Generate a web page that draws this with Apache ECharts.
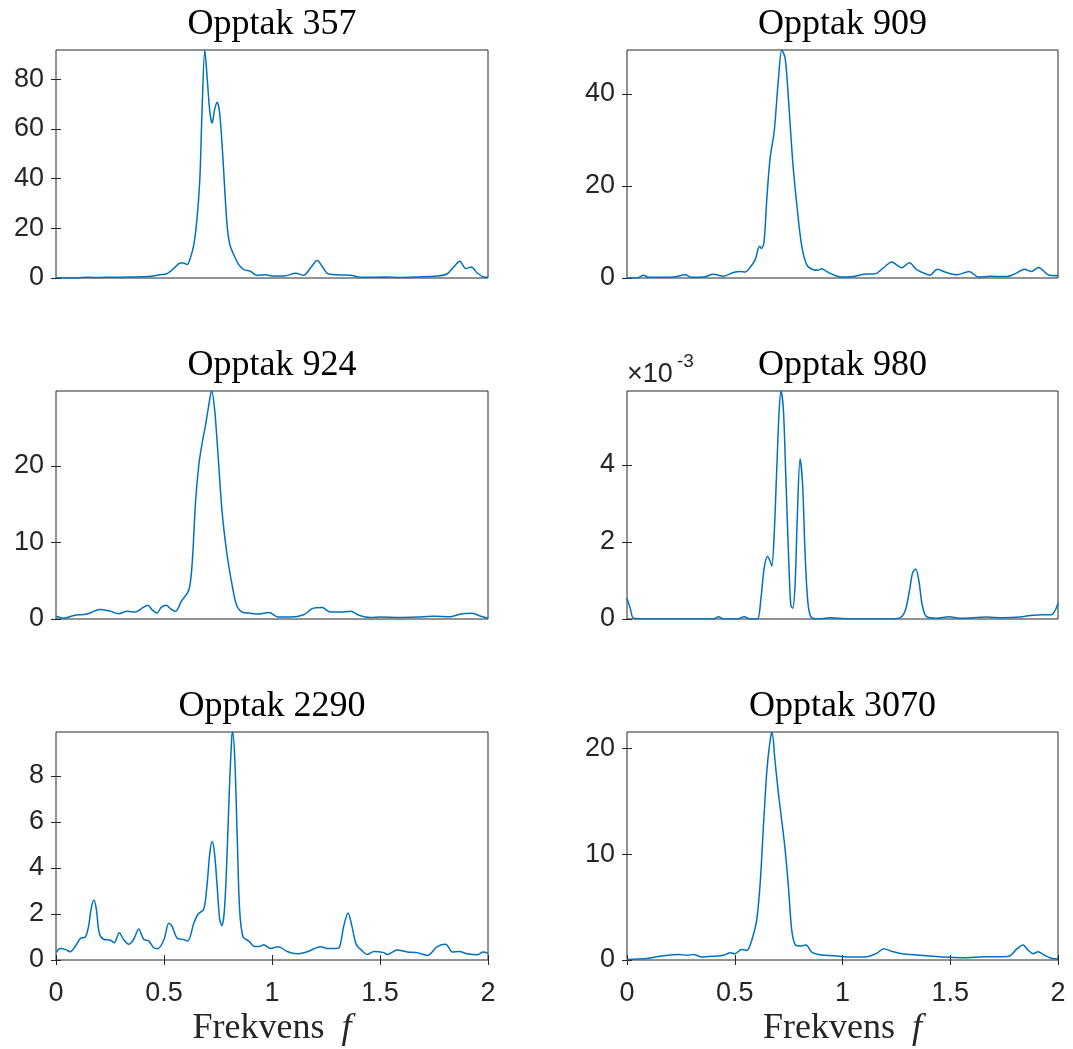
<!DOCTYPE html>
<html><head><meta charset="utf-8">
<script src="https://cdn.jsdelivr.net/npm/echarts@6/dist/echarts.min.js"></script>
<style>html,body{margin:0;padding:0;background:#fff}#c{width:1073px;height:1049px}</style>
</head><body><div id="c"></div>
<script>
// ---- data ----
const titles = ['Opptak 357', 'Opptak 909', 'Opptak 924', 'Opptak 980', 'Opptak 2290', 'Opptak 3070'];

const f357 = [0,0.05,0.1,0.15,0.2,0.25,0.3,0.35,0.4,0.44,0.48,0.51,0.53,0.55,0.576,0.59,0.607,0.622,0.638,0.653,0.666,0.676,0.689,0.70,0.712,0.723,0.734,0.746,0.757,0.769,0.78,0.792,0.805,0.823,0.846,0.87,0.9,0.93,0.97,1.01,1.055,1.11,1.147,1.178,1.21,1.232,1.256,1.30,1.364,1.41,1.52,1.6,1.67,1.765,1.81,1.84,1.87,1.897,1.923,1.95,1.98,2.0];
const p357 = [0.1,0.0,0.05,0.3,0.2,0.35,0.3,0.4,0.5,0.7,1.3,1.6,2.7,4.3,6.0,6.0,5.4,8,13.4,24,40,67,91.8,80.4,67,62.3,67.7,70.8,67,53.6,37.5,21.4,13.4,9.4,5.4,3.4,2.7,1.1,1.3,0.8,0.8,1.9,1.1,4.0,7.0,4.7,1.9,1.3,1.1,0.3,0.4,0.2,0.4,0.8,1.6,4.3,6.7,3.8,4.4,2.0,0.4,0.3];

const f909 = [0,0.046,0.077,0.1,0.154,0.216,0.27,0.30,0.355,0.40,0.448,0.494,0.525,0.548,0.571,0.595,0.615,0.625,0.636,0.649,0.664,0.683,0.703,0.718,0.734,0.749,0.769,0.788,0.81,0.834,0.865,0.888,0.903,0.927,0.958,0.996,1.05,1.097,1.15,1.19,1.228,1.25,1.274,1.31,1.344,1.375,1.405,1.44,1.475,1.53,1.588,1.63,1.683,1.76,1.8,1.845,1.876,1.91,1.954,2.0];
const p909 = [0,0,0.6,0.15,0.15,0.2,0.7,0.15,0.2,0.8,0.4,1.2,1.4,1.3,2.3,4.0,6.9,6.4,7.9,17.3,26,31.8,43.4,49.5,47.7,39,25.3,15.9,7.2,2.9,1.8,1.7,2.0,1.4,0.7,0.2,0.3,0.8,0.9,2.2,3.5,2.9,2.2,3.3,1.8,1.1,0.6,1.9,1.3,0.7,1.4,0.2,0.4,0.3,0.9,1.9,1.4,2.3,0.7,0.5];

const f924 = [0,0.036,0.082,0.144,0.175,0.205,0.252,0.29,0.33,0.368,0.4,0.425,0.445,0.468,0.488,0.511,0.53,0.553,0.58,0.615,0.63,0.646,0.661,0.676,0.692,0.707,0.72,0.734,0.749,0.769,0.792,0.815,0.835,0.862,0.9,0.94,0.985,1.03,1.086,1.147,1.186,1.232,1.27,1.317,1.364,1.402,1.456,1.503,1.595,1.672,1.75,1.827,1.873,1.927,1.966,2.0];
const p924 = [0.35,0.1,0.45,0.65,1.0,1.25,1.0,0.7,1.0,0.9,1.45,1.8,1.2,0.8,1.55,1.8,1.35,1.0,2.3,3.8,7.1,15.3,20.1,22.9,25.3,27.9,29.8,27.5,21.9,14.0,8.4,4.5,1.9,0.9,0.75,0.65,0.85,0.25,0.25,0.55,1.35,1.5,0.9,0.9,1.0,0.5,0.2,0.25,0.2,0.25,0.35,0.3,0.65,0.75,0.35,0.1];

const f980 = [0,0.015,0.031,0.1,0.2,0.3,0.4,0.425,0.448,0.51,0.544,0.571,0.605,0.62,0.636,0.652,0.664,0.672,0.683,0.695,0.706,0.715,0.726,0.737,0.749,0.76,0.769,0.78,0.79,0.803,0.815,0.826,0.839,0.853,0.88,0.942,1.05,1.205,1.266,1.29,1.31,1.325,1.34,1.355,1.37,1.39,1.436,1.495,1.544,1.668,1.745,1.822,1.884,1.93,1.969,2.0];
const p980 = [0.00054,0.00028,0.00002,0,0,0,0,0.00006,0,0,0.00006,0,0,0.00045,0.0013,0.00162,0.0015,0.00137,0.0022,0.0039,0.0054,0.00592,0.0054,0.0037,0.00175,0.00036,0.00028,0.00089,0.0026,0.00416,0.00348,0.00175,0.00045,0.00006,0,0.00003,0,0,0.00003,0.0002,0.00071,0.00119,0.0013,0.00097,0.00036,0.00006,0.00002,0.00006,0.00002,0.00005,0.00003,0.00005,0.0001,0.00011,0.00011,0.0004];

const f2290 = [0,0.02,0.043,0.066,0.09,0.113,0.136,0.151,0.162,0.175,0.187,0.2,0.22,0.252,0.27,0.293,0.313,0.337,0.36,0.383,0.406,0.43,0.452,0.471,0.5,0.522,0.537,0.56,0.59,0.61,0.638,0.658,0.684,0.7,0.712,0.723,0.734,0.746,0.758,0.768,0.78,0.792,0.803,0.814,0.818,0.828,0.839,0.85,0.866,0.893,0.916,0.94,0.962,0.993,1.03,1.07,1.117,1.163,1.225,1.256,1.286,1.31,1.332,1.352,1.37,1.39,1.418,1.44,1.472,1.518,1.533,1.58,1.626,1.672,1.72,1.765,1.804,1.835,1.866,1.904,1.95,1.978,2.0];
const p2290 = [0.32,0.5,0.46,0.36,0.6,0.94,1.0,1.47,2.19,2.6,2.19,1.18,0.9,0.86,0.75,1.18,0.89,0.68,0.9,1.35,0.9,0.82,0.53,0.49,0.89,1.6,1.47,0.96,0.89,0.82,1.6,2.0,2.2,3.34,4.63,5.14,4.63,3.2,1.75,1.5,2.2,4.6,7.5,9.7,9.9,8.66,5.35,2.2,1.0,0.82,0.6,0.59,0.66,0.5,0.58,0.37,0.27,0.36,0.58,0.5,0.5,0.53,1.47,2.04,1.47,0.68,0.39,0.24,0.37,0.32,0.24,0.43,0.35,0.32,0.2,0.58,0.68,0.35,0.37,0.27,0.23,0.35,0.29];

const f3070 = [0,0.093,0.154,0.24,0.278,0.309,0.347,0.417,0.448,0.48,0.5,0.533,0.556,0.58,0.602,0.618,0.633,0.649,0.664,0.673,0.687,0.703,0.718,0.734,0.749,0.764,0.78,0.803,0.831,0.857,0.896,0.958,1.05,1.112,1.158,1.192,1.228,1.282,1.328,1.39,1.467,1.56,1.668,1.745,1.776,1.807,1.838,1.861,1.884,1.907,1.938,1.969,2.0];
const p3070 = [0.05,0.15,0.35,0.53,0.44,0.53,0.28,0.38,0.44,0.69,0.6,1.0,0.91,1.94,3.8,7.27,12.6,17.9,20.75,21.57,18.8,15.7,13.2,10.4,6.96,2.9,1.47,1.32,1.41,0.75,0.5,0.41,0.28,0.31,0.63,1.07,0.82,0.56,0.5,0.41,0.28,0.22,0.31,0.31,0.38,1.0,1.41,0.94,0.6,0.78,0.44,0.16,0.09];

const yMax = [91.8, 49.5, 29.8, 0.00592, 9.9, 21.57];
const yTicks357 = [0,20,40,60,80];
const yTicks909 = [0,20,40];
const yTicks924 = [0,10,20];
const yTicks980 = [0,0.002,0.004];
const yTicks2290 = [0,2,4,6,8];
const yTicks3070 = [0,10,20];
const xTicks = [0,0.5,1,1.5,2];

// ---- layout ----
const freqs = [f357,f909,f924,f980,f2290,f3070];
const powers = [p357,p909,p924,p980,p2290,p3070];
const yTicks = [yTicks357,yTicks909,yTicks924,yTicks980,yTicks2290,yTicks3070];
const colLeft = [56, 627], colWidth = [432, 431];
const rowTop = [50, 391, 732], rowHeight = 228;
const INK = '#262626', LINE = '#0072BD';
const SANS = '"Liberation Sans", Arial, Helvetica, sans-serif';
const SERIF = '"Liberation Serif", "Times New Roman", serif';

const grids = [], xAxes = [], yAxes = [], series = [], graphics = [];
for (let i = 0; i < 6; i++) {
  const r = Math.floor(i / 2), c = i % 2, bottom = r === 2;
  grids.push({left: colLeft[c], top: rowTop[r], width: colWidth[c], height: rowHeight,
    show: true, borderColor: INK, borderWidth: 1, backgroundColor: 'transparent'});
  const tickStyle = {color: INK, width: 1};
  xAxes.push({gridIndex: i, type: 'value', min: 0, max: 2, interval: 0.5, position: 'bottom',
    axisLine: {show: false}, splitLine: {show: false},
    axisTick: {show: bottom, inside: true, length: 5, lineStyle: tickStyle, customValues: xTicks},
    axisLabel: {show: bottom, fontFamily: SANS, fontSize: 27, color: INK, margin: 20, customValues: xTicks,
      formatter: v => String(v)}});
  xAxes.push({gridIndex: i, type: 'value', min: 0, max: 2, interval: 0.5, position: 'top',
    axisLine: {show: false}, splitLine: {show: false},
    axisTick: {show: bottom, inside: true, length: 5, lineStyle: tickStyle, customValues: xTicks},
    axisLabel: {show: false}});
  const fmt = i === 3 ? (v => String(Math.round(v * 1000))) : (v => String(v));
  yAxes.push({gridIndex: i, type: 'value', min: 0, max: yMax[i], position: 'left',
    axisLine: {show: false}, splitLine: {show: false},
    axisTick: {show: true, inside: true, length: 5, lineStyle: tickStyle, customValues: yTicks[i]},
    axisLabel: {fontFamily: SANS, fontSize: 27, color: INK, margin: 12, customValues: yTicks[i], formatter: fmt}});
  yAxes.push({gridIndex: i, type: 'value', min: 0, max: yMax[i], position: 'right',
    axisLine: {show: false}, splitLine: {show: false},
    axisTick: {show: true, inside: true, length: 5, lineStyle: tickStyle, customValues: yTicks[i]},
    axisLabel: {show: false}});
  series.push({type: 'line', xAxisIndex: 2 * i, yAxisIndex: 2 * i,
    data: freqs[i].map((f, k) => [f, powers[i][k]]),
    showSymbol: false, symbol: 'none', smooth: 0.3,
    lineStyle: {color: LINE, width: 1.5}, clip: true});
  // title
  graphics.push({type: 'text', x: colLeft[c] + colWidth[c] / 2, y: rowTop[r] - 25,
    style: {text: titles[i], font: '36px ' + SERIF, fill: '#000', align: 'center', verticalAlign: 'middle'}});
  if (bottom) {
    graphics.push({type: 'text', x: colLeft[c] + colWidth[c] / 2, y: 1029,
      style: {text: '{n|Frekvens}{i|f}', align: 'center', verticalAlign: 'middle',
        rich: {n: {font: '36px ' + SERIF, fill: INK}, i: {font: 'italic 36px ' + SERIF, fill: INK, padding: [0, 0, 0, 17]}}}});
  }
}
// exponent label of the 980 panel
graphics.push({type: 'text', x: 627, y: 375,
  style: {text: '×10', font: '27px ' + SANS, fill: INK, align: 'left', verticalAlign: 'middle'}});
graphics.push({type: 'text', x: 677, y: 362,
  style: {text: '-3', font: '19px ' + SANS, fill: INK, align: 'left', verticalAlign: 'middle'}});

const chart = echarts.init(document.getElementById('c'), null, {renderer: 'canvas'});
chart.setOption({animation: false, backgroundColor: '#fff',
  grid: grids, xAxis: xAxes, yAxis: yAxes, series: series, graphic: graphics});
</script></body></html>
